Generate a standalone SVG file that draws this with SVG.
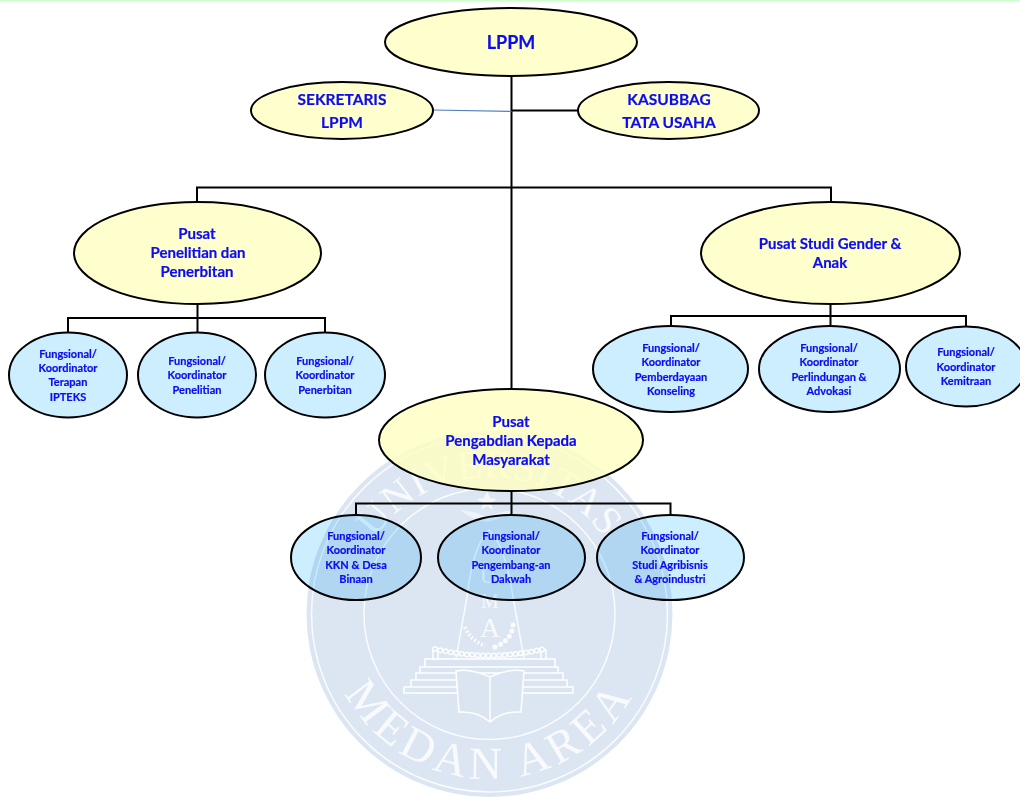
<svg xmlns="http://www.w3.org/2000/svg" width="1020" height="799" viewBox="0 0 1020 799">
<style>
text{font-family:"Lato","Open Sans","Liberation Sans",sans-serif;font-weight:700;fill:#0c0cf0;stroke:#0c0cf0;stroke-width:.2;text-anchor:middle}
.y{fill:#ffffc0;fill-opacity:.8;stroke:#000;stroke-width:2}
.b{fill:#cceeff;stroke:#000;stroke-width:2;mix-blend-mode:multiply}
.l{font-size:18px}.m{font-size:15.500px}.p{font-size:15px}.s{font-size:11px}
#connectors path{fill:none;stroke:#000;stroke-width:2}
#watermark text{font-family:"Liberation Serif",serif;font-weight:400;fill:#fff;fill-opacity:.8;stroke:none}
#watermark .w{fill:none;stroke:#fff;stroke-opacity:.85;stroke-width:1.500}
#watermark .k{fill:#dae5f1;stroke:#fff;stroke-width:1.500}
</style>
<defs>
<path id="arcTop" d="M352.500 614A137 137 0 0 1 626.500 614"/>
<path id="arcBot" d="M324.500 614A165 165 0 0 0 654.500 614"/>
</defs>
<rect width="1020" height="799" fill="#fff"/>
<rect width="1020" height="1.500" fill="#ccffcc"/>
<g id="watermark">
<circle cx="489.500" cy="614" r="183" fill="#4f81bd" fill-opacity=".2"/>
<circle class="w" cx="489.500" cy="614" r="178"/>
<circle class="w" cx="489.500" cy="614" r="125.500"/>
<text font-size="40" letter-spacing="1"><textPath href="#arcTop" startOffset="50%">UNIVERSITAS</textPath></text>
<text font-size="46" letter-spacing="5"><textPath href="#arcBot" startOffset="50%">MEDAN AREA</textPath></text>
<path class="w" d="M456 659L467 597Q473 545 489 530Q505 545 513 597L524 659"/>
<path d="M487 491L490 498L497 499L491 503L493 510L487 506L481 510L483 503L477 499L484 498Z" fill="#fff" fill-opacity=".7"/>
<path d="M460 510Q480 512 487 518Q497 512 514 510Q500 520 487 522Q472 520 460 510Z" fill="#fff" fill-opacity=".5"/>
<path class="k" d="M425 659H555V667H425ZM420 667H558V673H420ZM416 673H563V680H416ZM411 680H567V687H411ZM404 687H573V693H404Z"/>
<path class="k" d="M433 650H438V659H433ZM541 650H546V659H541Z"/>
<path d="M435 649Q489 662 544 649" fill="none" stroke="#fff" stroke-opacity=".9" stroke-width="6" stroke-linecap="round" stroke-dasharray="0 5.400"/>
<path d="M435 649Q489 662 544 649" fill="none" stroke="#dae5f1" stroke-width="3" stroke-linecap="round" stroke-dasharray="0 5.400"/>
<path d="M513 625Q512 640 495 647" fill="none" stroke="#fff" stroke-opacity=".85" stroke-width="5" stroke-linecap="round" stroke-dasharray="0 6"/>
<path d="M465 627Q470 640 485 646" fill="none" stroke="#fff" stroke-opacity=".8" stroke-width="4" stroke-dasharray="2 2"/>
<path class="k" d="M490 677Q470 668 456 671L459 712Q478 711 490 722Q502 711 521 712L524 671Q510 668 490 677V722"/>
<text font-size="22" x="488" y="583">U</text>
<text font-size="20" x="490" y="608">M</text>
<text font-size="28" x="490" y="637">A</text>
</g>
<g id="connectors">
<path d="M511.500 76V390"/>
<path d="M511.500 110.500H578"/>
<path d="M433 110L511.500 111.500" style="stroke:#4f81bd;stroke-width:1.200"/>
<path d="M197 202V187.500H831V202"/>
<path d="M197.500 304V332M68 332V318H325V332"/>
<path d="M830.500 304V326M671 326V316H966V327"/>
<path d="M511.500 491V515M356 515V503.500H670.500V515"/>
</g>
<g id="lppm"><ellipse class="y" cx="511" cy="42" rx="126" ry="34"/><text class="l" x="511" y="49">LPPM</text></g>
<g id="sekretaris"><ellipse class="y" cx="342" cy="110.500" rx="91" ry="28.500"/><text class="m" x="342" y="105">SEKRETARIS</text><text class="m" x="342" y="128">LPPM</text></g>
<g id="kasubbag"><ellipse class="y" cx="668.500" cy="110.500" rx="90.500" ry="28.500"/><text class="m" x="669" y="105">KASUBBAG</text><text class="m" x="669" y="128">TATA USAHA</text></g>
<g id="pusat-penelitian"><ellipse class="y" cx="197.500" cy="253" rx="123.500" ry="51"/><text class="p" x="197" y="239">Pusat</text><text class="p" x="198" y="258">Penelitian dan</text><text class="p" x="197" y="277">Penerbitan</text></g>
<g id="pusat-gender"><ellipse class="y" cx="830.500" cy="253" rx="129.500" ry="51"/><text class="p" x="830" y="249">Pusat Studi Gender &amp;</text><text class="p" x="830" y="268">Anak</text></g>
<g id="pusat-pengabdian"><ellipse class="y" cx="511" cy="440" rx="132" ry="51"/><text class="p" x="511" y="427">Pusat</text><text class="p" x="511" y="446">Pengabdian Kepada</text><text class="p" x="511" y="465">Masyarakat</text></g>
<g id="f-terapan"><ellipse class="b" cx="68" cy="375" rx="59" ry="42.500"/><text class="s" x="68" y="358">Fungsional/</text><text class="s" x="68" y="372">Koordinator</text><text class="s" x="68" y="386">Terapan</text><text class="s" x="68" y="401">IPTEKS</text></g>
<g id="f-penelitian"><ellipse class="b" cx="197" cy="375" rx="59" ry="42.500"/><text class="s" x="197" y="365">Fungsional/</text><text class="s" x="197" y="379">Koordinator</text><text class="s" x="197" y="394">Penelitian</text></g>
<g id="f-penerbitan"><ellipse class="b" cx="325" cy="375" rx="60" ry="42.500"/><text class="s" x="325" y="365">Fungsional/</text><text class="s" x="325" y="379">Koordinator</text><text class="s" x="325" y="394">Penerbitan</text></g>
<g id="f-pemberdayaan"><ellipse class="b" cx="670.500" cy="369" rx="77.500" ry="43"/><text class="s" x="671" y="352">Fungsional/</text><text class="s" x="671" y="366">Koordinator</text><text class="s" x="671" y="381">Pemberdayaan</text><text class="s" x="671" y="395">Konseling</text></g>
<g id="f-perlindungan"><ellipse class="b" cx="829.500" cy="369" rx="70.500" ry="43"/><text class="s" x="829" y="352">Fungsional/</text><text class="s" x="829" y="366">Koordinator</text><text class="s" x="829" y="381">Perlindungan &amp;</text><text class="s" x="829" y="395">Advokasi</text></g>
<g id="f-kemitraan"><ellipse class="b" cx="966" cy="366.500" rx="60" ry="40"/><text class="s" x="966" y="356">Fungsional/</text><text class="s" x="966" y="371">Koordinator</text><text class="s" x="966" y="385">Kemitraan</text></g>
<g id="f-kkn"><ellipse class="b" cx="356" cy="557.500" rx="65" ry="42.500"/><text class="s" x="356" y="540">Fungsional/</text><text class="s" x="356" y="554">Koordinator</text><text class="s" x="356" y="569">KKN &amp; Desa</text><text class="s" x="356" y="583">Binaan</text></g>
<g id="f-dakwah"><ellipse class="b" cx="511.500" cy="557.500" rx="73.500" ry="42.500"/><text class="s" x="511" y="540">Fungsional/</text><text class="s" x="511" y="554">Koordinator</text><text class="s" x="511" y="569">Pengembang-an</text><text class="s" x="511" y="583">Dakwah</text></g>
<g id="f-agribisnis"><ellipse class="b" cx="670.500" cy="557.500" rx="73.500" ry="42.500"/><text class="s" x="670" y="540">Fungsional/</text><text class="s" x="670" y="554">Koordinator</text><text class="s" x="670" y="569">Studi Agribisnis</text><text class="s" x="670" y="583">&amp; Agroindustri</text></g>
</svg>
